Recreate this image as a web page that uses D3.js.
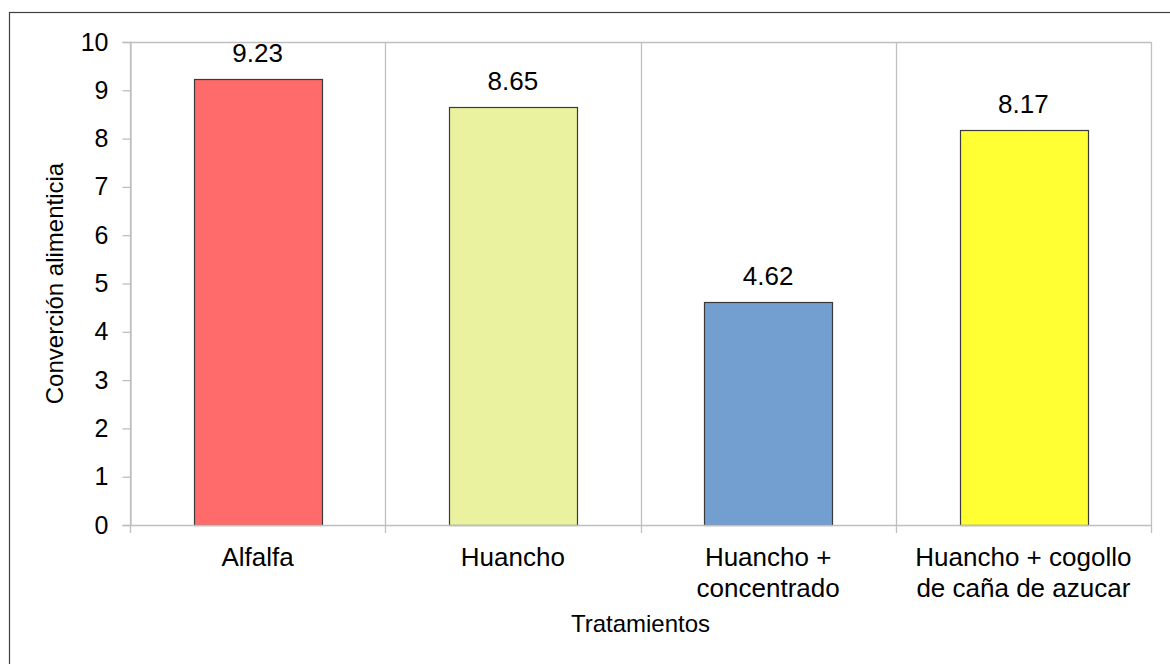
<!DOCTYPE html>
<html lang="es">
<head>
    <meta charset="UTF-8">
    <title>Conversión alimenticia</title>
    <script src="https://d3js.org/d3.v7.min.js"></script>
    <style>
        body { margin: 0; background: #fff; }
        svg { display: block; font-family: "Liberation Sans", Arial, sans-serif; }
    </style>
</head>
<body>
<script type="text/javascript">
    // data
    var categories = ["Alfalfa", "Huancho", "Huancho + concentrado", "Huancho + cogollo de caña de azucar"];
    var categoryLines = [["Alfalfa"], ["Huancho"], ["Huancho +", "concentrado"], ["Huancho + cogollo", "de caña de azucar"]];
    var values = [9.23, 8.65, 4.62, 8.17];
    var barColors = ["#ff6b6b", "#ebf29f", "#729fcf", "#ffff33"];
    var yTicks = [0, 1, 2, 3, 4, 5, 6, 7, 8, 9, 10];

    var svgWidth = 1170;
    var svgHeight = 664;
    var plot = {left: 130, top: 42, right: 1151, bottom: 525};

    var svg = d3.select("body").append("svg")
        .attr("width", svgWidth)
        .attr("height", svgHeight);

    // outer chart frame (cut off at right/bottom like the reference)
    svg.append("rect")
        .attr("x", 9.5)
        .attr("y", 12.5)
        .attr("width", 1300)
        .attr("height", 800)
        .attr("fill", "none")
        .attr("stroke", "#404040")
        .attr("stroke-width", 1.2);

    var xScale = d3.scaleBand()
        .domain(categories)
        .range([plot.left, plot.right]);
    var barScale = d3.scaleBand()
        .domain(categories)
        .range([plot.left, plot.right])
        .paddingInner(0.5)
        .paddingOuter(0.25);
    var yScale = d3.scaleLinear()
        .domain([0, 10])
        .range([plot.bottom, plot.top]);

    var gridColor = "#bfbfbf";

    // vertical grid lines at category boundaries
    var bounds = categories.map(function (c) { return xScale(c); }).concat([plot.right]);
    svg.append("g")
        .selectAll("line")
        .data(bounds)
        .enter()
        .append("line")
        .attr("x1", function (d) { return Math.round(d) + 0.5; })
        .attr("x2", function (d) { return Math.round(d) + 0.5; })
        .attr("y1", plot.top)
        .attr("y2", plot.bottom + 8)
        .attr("stroke", gridColor)
        .attr("stroke-width", 1.3);

    // top border of plot
    svg.append("line")
        .attr("x1", plot.left)
        .attr("x2", plot.right)
        .attr("y1", yScale(10) + 0.5)
        .attr("y2", yScale(10) + 0.5)
        .attr("stroke", gridColor)
        .attr("stroke-width", 1.3);

    // y axis
    var yAxis = d3.axisLeft(yScale)
        .tickValues(yTicks)
        .tickSize(8)
        .tickPadding(14)
        .tickFormat(d3.format("d"));
    var yG = svg.append("g")
        .attr("transform", "translate(" + (plot.left + 0.5) + ",0)")
        .call(yAxis);
    yG.select(".domain").attr("stroke", gridColor).attr("stroke-width", 1.3);
    yG.selectAll(".tick line").attr("stroke", gridColor).attr("stroke-width", 1.3);
    yG.selectAll(".tick text")
        .attr("font-family", "Liberation Sans, Arial, sans-serif")
        .attr("font-size", "25px")
        .attr("fill", "#000");

    // bars
    svg.append("g")
        .selectAll("rect")
        .data(values)
        .enter()
        .append("rect")
        .attr("x", function (d, i) { return Math.round(barScale(categories[i])) + 0.5; })
        .attr("y", function (d) { return Math.round(yScale(d)) + 0.5; })
        .attr("width", Math.round(barScale.bandwidth()))
        .attr("height", function (d) { return Math.round(yScale(0)) - Math.round(yScale(d)); })
        .attr("fill", function (d, i) { return barColors[i]; })
        .attr("stroke", "#3a3a3a")
        .attr("stroke-width", 1.2);

    // x axis baseline
    svg.append("line")
        .attr("x1", plot.left)
        .attr("x2", plot.right + 1)
        .attr("y1", plot.bottom + 0.5)
        .attr("y2", plot.bottom + 0.5)
        .attr("stroke", gridColor)
        .attr("stroke-width", 1.6);

    // value labels
    svg.append("g")
        .selectAll("text")
        .data(values)
        .enter()
        .append("text")
        .attr("x", function (d, i) { return xScale(categories[i]) + xScale.bandwidth() / 2; })
        .attr("y", function (d) { return yScale(d) - 17; })
        .attr("text-anchor", "middle")
        .attr("font-size", "26px")
        .attr("fill", "#000")
        .text(function (d) { return d3.format(".2f")(d); });

    // category labels
    var catG = svg.append("g")
        .selectAll("text")
        .data(categoryLines)
        .enter()
        .append("text")
        .attr("text-anchor", "middle")
        .attr("font-size", "26px")
        .attr("fill", "#000")
        .attr("x", function (d, i) { return xScale(categories[i]) + xScale.bandwidth() / 2; })
        .attr("y", 566);
    catG.selectAll("tspan")
        .data(function (d) { return d; })
        .enter()
        .append("tspan")
        .attr("x", function () { return d3.select(this.parentNode).attr("x"); })
        .attr("dy", function (d, i) { return i === 0 ? 0 : 30.5; })
        .text(function (d) { return d; });

    // axis titles
    svg.append("text")
        .attr("x", (plot.left + plot.right) / 2)
        .attr("y", 632)
        .attr("text-anchor", "middle")
        .attr("font-size", "24px")
        .attr("fill", "#000")
        .text("Tratamientos");

    svg.append("text")
        .attr("transform", "translate(63," + ((plot.top + plot.bottom) / 2) + ") rotate(-90)")
        .attr("text-anchor", "middle")
        .attr("font-size", "24px")
        .attr("fill", "#000")
        .text("Converción alimenticia");
</script>
</body>
</html>
